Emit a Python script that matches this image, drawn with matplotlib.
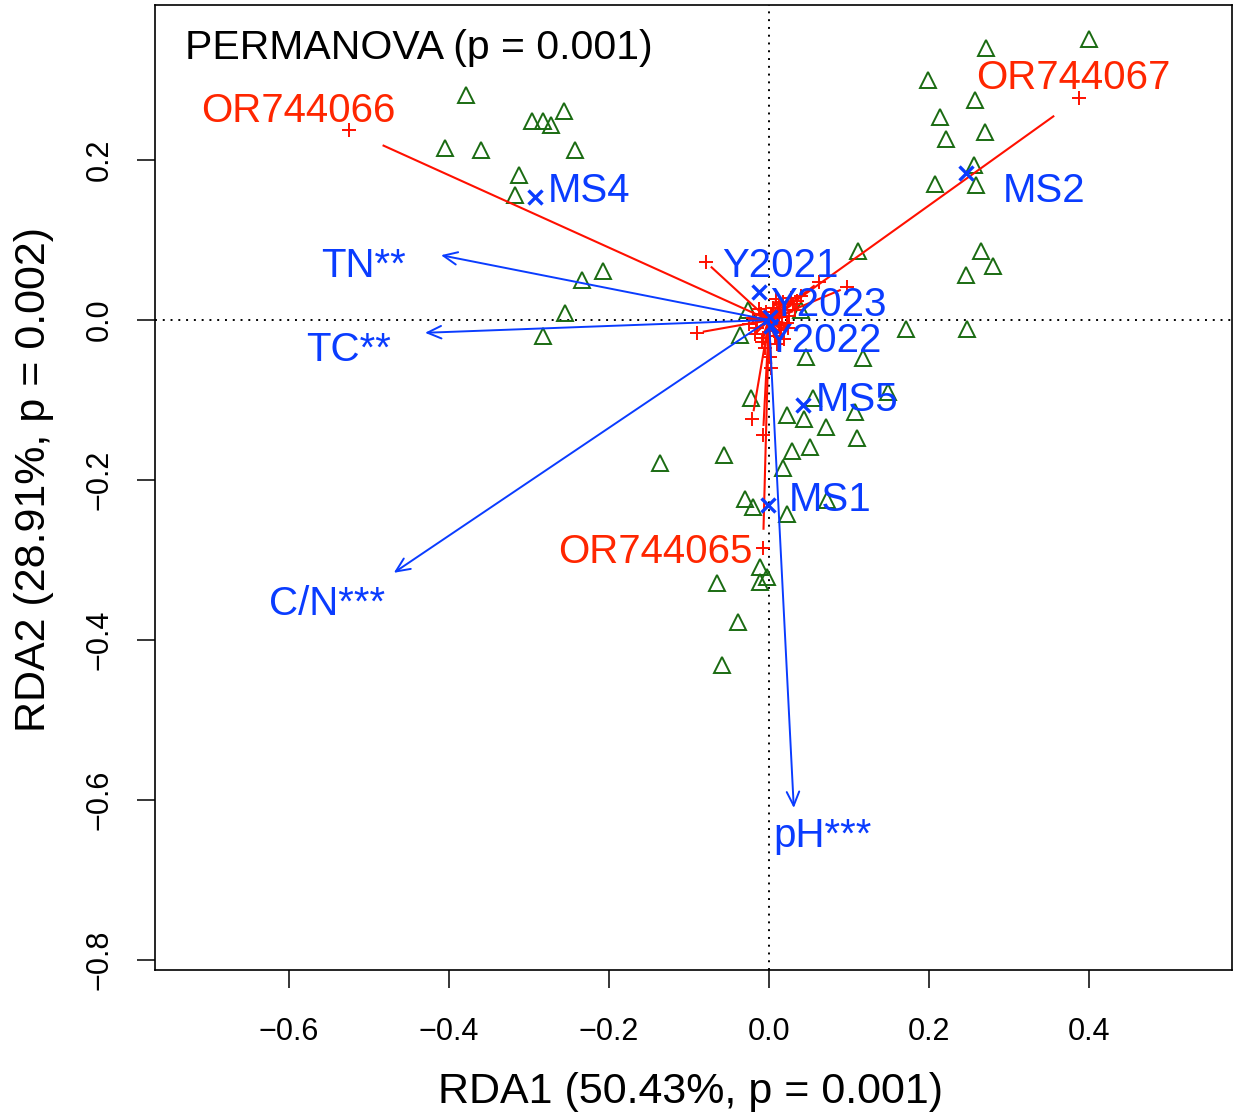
import matplotlib
matplotlib.use('Agg')
import matplotlib.pyplot as plt
import numpy as np

plt.rcParams['font.family'] = ['Liberation Sans', 'DejaVu Sans']

# ---------------- data ----------------
# site scores (green triangles)
site_x = [-0.379, -0.405, -0.360, -0.296, -0.283, -0.273, -0.256, -0.2425, -0.3125, -0.3175,
          -0.234, -0.2075, -0.255, -0.2825,
          0.400, 0.271, 0.199, 0.2575, 0.214, 0.270, 0.221, 0.256, 0.2075, 0.259,
          0.111, 0.265, 0.280, 0.246, 0.171, 0.2475,
          -0.026, -0.036, 0.040, 0.046, 0.1175,
          -0.0225, 0.055, 0.0225, 0.044, 0.071, 0.1075, 0.110, 0.149, 0.029, 0.051,
          -0.056, 0.0175, -0.030, -0.020, 0.0225, 0.0725, -0.136,
          -0.011, -0.0025, -0.011, -0.065, -0.039, -0.059]
site_y = [0.281, 0.215, 0.2125, 0.249, 0.249, 0.244, 0.261, 0.2125, 0.181, 0.156,
          0.050, 0.061, 0.009, -0.020,
          0.351, 0.340, 0.300, 0.275, 0.254, 0.235, 0.226, 0.194, 0.170, 0.169,
          0.086, 0.086, 0.0675, 0.056, -0.011, -0.011,
          0.0125, -0.019, 0.0125, -0.046, -0.0475,
          -0.0975, -0.0975, -0.119, -0.124, -0.134, -0.115, -0.1475, -0.090, -0.164, -0.159,
          -0.169, -0.185, -0.224, -0.234, -0.2425, -0.225, -0.179,
          -0.309, -0.321, -0.3275, -0.329, -0.3775, -0.431]

# group centroids (blue x)
centroid_names = ['MS4', 'MS2', 'MS5', 'MS1', 'Y2021', 'Y2023', 'Y2022']
centroid_x = [-0.2925, 0.246, 0.0425, -0.001, -0.0125, 0.001, 0.003]
centroid_y = [0.154, 0.184, -0.106, -0.231, 0.035, 0.004, -0.008]

# environmental vectors (blue arrows)
env_names = ['TN**', 'TC**', 'C/N***', 'pH***']
env_x = [-0.410, -0.430, -0.469, 0.031]
env_y = [0.081, -0.016, -0.316, -0.610]

# species scores (red +)
species_names = ['OR744066', 'OR744067', 'OR744065'] + [''] * 40
species_x = [-0.525, 0.3875, -0.0075,
             -0.079, 0.062, 0.0975, -0.090, -0.021, -0.0075, 0.001, -0.009,
             0.012, 0.020, 0.025, -0.015, 0.008, 0.015, -0.010, 0.005, -0.020,
             0.018, 0.030, -0.005, 0.003, 0.010, -0.025, 0.022,
             0.028, 0.035, 0.040, 0.016, -0.012, -0.018, 0.006, -0.004, 0.013,
             0.024, -0.008, 0.002, 0.009, 0.033, -0.016, 0.019]
species_y = [0.2375, 0.2775, -0.285,
             0.0725, 0.047, 0.041, -0.016, -0.124, -0.144, -0.046, -0.028,
             0.020, 0.012, 0.005, -0.010, -0.020, -0.012, 0.008, 0.015, 0.003,
             0.022, 0.020, -0.035, -0.060, -0.030, -0.005, -0.004,
             0.028, 0.024, 0.030, 0.004, 0.014, -0.018, -0.014, 0.010, -0.006,
             -0.010, -0.022, 0.006, 0.026, 0.012, 0.000, -0.024]

xlabel = 'RDA1 (50.43%, p = 0.001)'
ylabel = 'RDA2 (28.91%, p = 0.002)'
annot = 'PERMANOVA (p = 0.001)'
xticks = [-0.6, -0.4, -0.2, 0.0, 0.2, 0.4]
yticks = [-0.8, -0.6, -0.4, -0.2, 0.0, 0.2]

# ---------------- style ----------------
BLUE = '#0A3CFF'
RED_TXT = '#FF2600'
RED = '#FF1000'
GREEN = '#1A6B12'
LAB_FS = 29

fig = plt.figure(figsize=(12.38, 11.2), dpi=100)
W, H = 1238, 1120
ax = fig.add_axes([155 / W, 1 - 970 / H, (1232 - 155) / W, (970 - 5) / H])
ax.set_xlim(-0.7675, 0.57875)
ax.set_ylim(-0.8125, 0.39375)

ax.axhline(0, color='black', lw=1.4, ls=(0, (1, 3)), zorder=1)
ax.axvline(0, color='black', lw=1.4, ls=(0, (1, 3)), zorder=1)

# sites
ax.plot(site_x, site_y, ls='none', marker='^', ms=11, mfc='none', mec=GREEN, mew=1.4, zorder=2)

# species lines and markers
sx = np.array(species_x)
sy = np.array(species_y)
for x, y in zip(sx, sy):
    ax.plot([0, 0.92 * x], [0, 0.92 * y], color=RED, lw=1.5, zorder=3, solid_capstyle='butt')
ax.plot(sx, sy, ls='none', marker='+', ms=10, mew=1.4, color=RED, zorder=3)

sp_offsets = {'OR744066': ((-51, 19), 'center'),
              'OR744067': ((-6, 20), 'center'),
              'OR744065': ((-11, -4), 'right')}
for name, x, y in zip(species_names, sx, sy):
    if name:
        off, ha = sp_offsets[name]
        ax.annotate(name, (x, y), xytext=off, textcoords='offset pixels',
                    ha=ha, va='center', fontsize=LAB_FS, color=RED_TXT, zorder=5)

# environmental arrows
env_offsets = {'TN**': (-77, -11), 'TC**': (-76, -17), 'C/N***': (-67, -31), 'pH***': (29, -28)}
for name, x, y in zip(env_names, env_x, env_y):
    ax.annotate('', xy=(x, y), xytext=(0, 0),
                arrowprops=dict(arrowstyle='->,head_length=1.0,head_width=0.45',
                                color=BLUE, lw=1.4, shrinkA=0, shrinkB=0), zorder=4)
    ax.annotate(name, (x, y), xytext=env_offsets[name], textcoords='offset pixels',
                ha='center', va='center', fontsize=LAB_FS, color=BLUE, zorder=5)

# centroids
ax.plot(centroid_x, centroid_y, ls='none', marker='x', ms=10, mew=2.4, color=BLUE, zorder=4)
cen_offsets = {'MS4': (13, 6), 'MS2': (37, -18), 'MS5': (13, 5), 'MS1': (21, 5),
               'Y2021': (-37, 26), 'Y2023': (0, 12), 'Y2022': (-6, -15)}
for name, x, y in zip(centroid_names, centroid_x, centroid_y):
    ax.annotate(name, (x, y), xytext=cen_offsets[name], textcoords='offset pixels',
                ha='left', va='center', fontsize=LAB_FS, color=BLUE, zorder=6)

ax.text((185 - 155) / 1077, (970 - 48) / 965, annot, transform=ax.transAxes,
        ha='left', va='center', fontsize=29.5, color='black')

# axes styling
ax.set_xticks(xticks)
ax.set_yticks(yticks)
ax.set_xticklabels([f'{v:.1f}'.replace('-', '\u2212') for v in xticks])
ax.set_yticklabels([f'{v:.1f}'.replace('-', '\u2212') for v in yticks],
                   rotation=90, va='center')
ax.tick_params(axis='both', direction='out', length=13, width=1.1, labelsize=22, color='black')
ax.tick_params(axis='x', pad=21)
ax.tick_params(axis='y', pad=16)
for sp in ax.spines.values():
    sp.set_linewidth(1.2)

fig.text(691 / W, 1 - 1092 / H, xlabel, ha='center', va='center', fontsize=31)
fig.text(34 / W, 1 - 480 / H, ylabel, ha='center', va='center', fontsize=31, rotation=90)

fig.savefig('out.png', dpi=100)
